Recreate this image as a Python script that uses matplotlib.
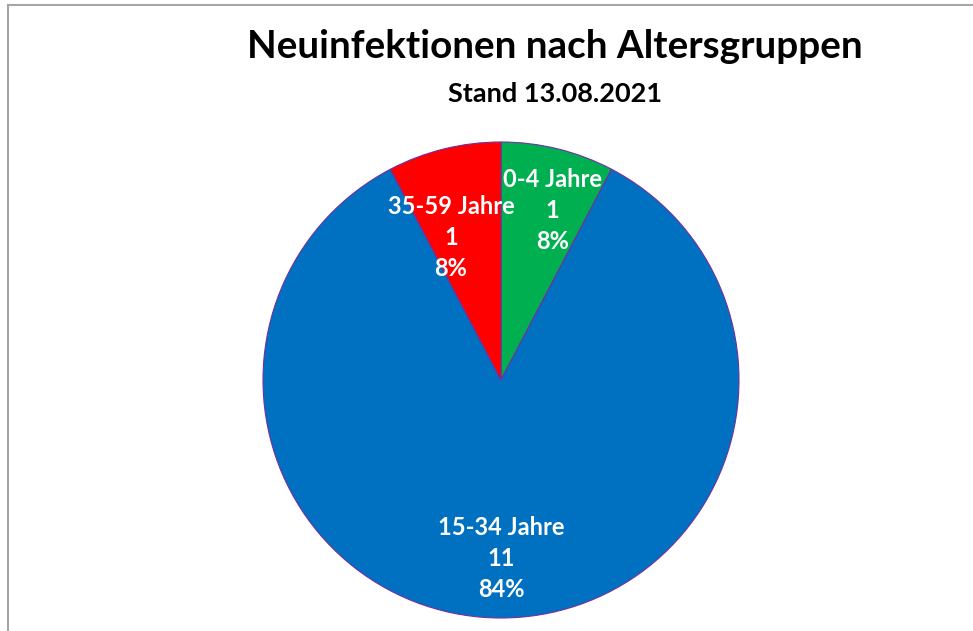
import numpy as np
import matplotlib
matplotlib.use("Agg")
import matplotlib.pyplot as plt
from matplotlib.lines import Line2D

# data
groups = ["0-4 Jahre", "15-34 Jahre", "35-59 Jahre"]
counts = [1, 11, 1]
pct_labels = ["8%", "84%", "8%"]
colors = ["#00B050", "#0070C0", "#FF0000"]

# label placement: radius fraction and angle shift from wedge middle
label_r = [0.745, 0.75, 0.635]
label_shift = [-3.0, 0.0, 5.5]

plt.rcParams['font.family'] = ['Lato', 'DejaVu Sans']

W, H = 973, 631
fig = plt.figure(figsize=(W / 100, H / 100), dpi=100)

cx, cy, r = 501, 380, 238
ax = fig.add_axes([(cx - r) / W, (H - cy - r) / H, 2 * r / W, 2 * r / H])

wedges, _ = ax.pie(counts, colors=colors, startangle=90, counterclock=False,
                   radius=1, wedgeprops=dict(edgecolor="#7030A0", linewidth=0.8))

for w, g, c, p, lr, sh in zip(wedges, groups, counts, pct_labels, label_r, label_shift):
    ang = np.deg2rad((w.theta1 + w.theta2) / 2 + sh)
    ax.text(lr * np.cos(ang), lr * np.sin(ang), f"{g}\n{c}\n{p}",
            ha="center", va="center", color="white", fontsize=17,
            fontweight="bold", linespacing=1.42)

ax.set_xlim(-1, 1)
ax.set_ylim(-1, 1)
ax.set_aspect("equal")
ax.axis("off")

fig.text(555 / W, 1 - 47 / H, "Neuinfektionen nach Altersgruppen",
         ha="center", va="center", fontsize=27.8, fontweight="bold")
fig.text(555 / W, 1 - 94 / H, "Stand 13.08.2021",
         ha="center", va="center", fontsize=19.5, fontweight="bold")

# chart border (top and left visible)
fig.add_artist(Line2D([7.5 / W, 1], [1 - 4.5 / H, 1 - 4.5 / H],
                      transform=fig.transFigure, color="#A6A6A6", lw=1.5))
fig.add_artist(Line2D([7.5 / W, 7.5 / W], [0, 1 - 4.5 / H],
                      transform=fig.transFigure, color="#A6A6A6", lw=1.5))

fig.savefig("out.png", dpi=100)
